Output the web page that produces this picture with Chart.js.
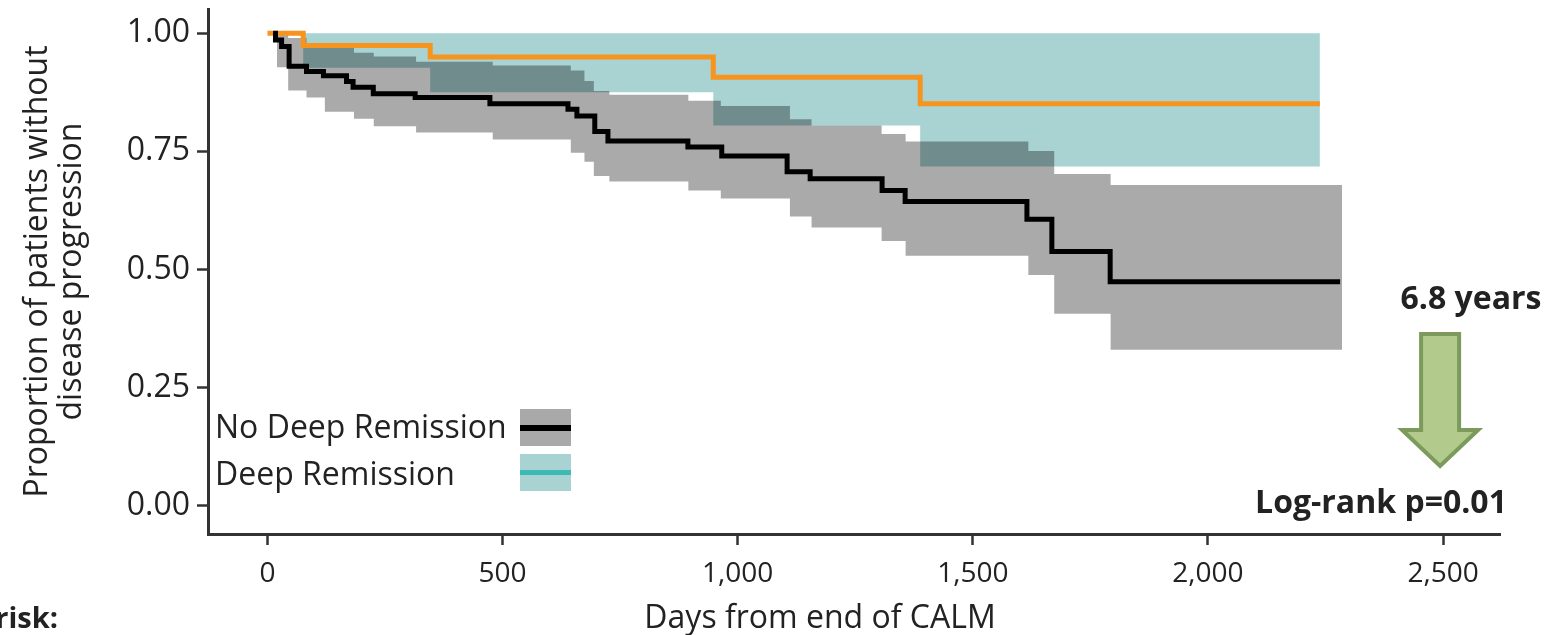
<!DOCTYPE html>
<html>
<head>
<meta charset="utf-8">
<script src="https://cdn.jsdelivr.net/npm/chart.js@4.4.1/dist/chart.umd.min.js"></script>
<style>
    html, body { margin: 0; padding: 0; background: #fff; }
</style>
</head>
<body>
<canvas id="kmChart" width="1558" height="635"></canvas>
<script>
// No Deep Remission: Kaplan-Meier curve (days, survival)
const noDeepTimes = [12, 17, 30, 46, 83, 119, 168, 182, 225, 314, 473, 639, 658, 696, 724, 894, 966, 1105, 1154, 1307, 1356, 1615, 1668, 1792, 2281];
const noDeepSurvival = [1.0, 0.986, 0.972, 0.930, 0.919, 0.910, 0.898, 0.886, 0.872, 0.864, 0.851, 0.839, 0.825, 0.792, 0.772, 0.759, 0.740, 0.707, 0.692, 0.667, 0.644, 0.606, 0.538, 0.474, 0.474];

// No Deep Remission: confidence band
const noDeepBandTimes = [20, 44, 83, 122, 184, 226, 316, 479, 645, 674, 694, 727, 895, 964, 1111, 1157, 1306, 1357, 1618, 1673, 1793, 2285];
const noDeepUpper = [0.999, 0.990, 0.969, 0.969, 0.959, 0.951, 0.940, 0.932, 0.921, 0.899, 0.878, 0.870, 0.857, 0.846, 0.818, 0.805, 0.787, 0.771, 0.751, 0.702, 0.679, 0.679];
const noDeepLower = [0.928, 0.879, 0.864, 0.834, 0.819, 0.803, 0.790, 0.775, 0.747, 0.728, 0.698, 0.686, 0.667, 0.650, 0.612, 0.589, 0.560, 0.529, 0.488, 0.406, 0.330, 0.330];

// Deep Remission: curve and band
const deepTimes = [0, 76, 346, 948, 1388, 2238];
const deepSurvival = [1.0, 0.974, 0.950, 0.907, 0.851, 0.851];
const deepUpper = [1.0, 1.0, 1.0, 1.0, 1.0, 1.0];
const deepLower = [1.0, 0.927, 0.875, 0.805, 0.718, 0.718];

const xTicks = [0, 500, 1000, 1500, 2000, 2500];
const yTicks = [0, 0.25, 0.5, 0.75, 1.0];

const legendLabels = ['No Deep Remission', 'Deep Remission'];
const arrowDay = 2500;

function pontos(tempos, valores) {
    return tempos.map((t, i) => ({ x: t, y: valores[i] }));
}

function textoNegrito(ctx, texto, x, y, tamanho, alinhar) {
    ctx.save();
    ctx.font = 'bold ' + tamanho + 'px "Open Sans"';
    ctx.textAlign = alinhar;
    ctx.textBaseline = 'alphabetic';
    ctx.fillStyle = '#222';
    ctx.fillText(texto, x, y);
    ctx.restore();
}

const extras = {
    id: 'extras',
    afterDraw(chart) {
        const ctx = chart.ctx;
        const xs = chart.scales.x;

        // legend
        ctx.save();
        ctx.font = '32px "Open Sans"';
        ctx.fillStyle = '#222';
        ctx.textAlign = 'left';
        ctx.textBaseline = 'alphabetic';
        ctx.fillText(legendLabels[0], 215, 438);
        ctx.fillText(legendLabels[1], 215, 485);
        ctx.fillStyle = '#a9a9a9';
        ctx.fillRect(520, 409, 51, 37);
        ctx.fillStyle = '#000';
        ctx.fillRect(520, 425, 51, 6);
        ctx.fillStyle = '#a8d3d2';
        ctx.fillRect(520, 454, 51, 37);
        ctx.fillStyle = '#3dbab3';
        ctx.fillRect(520, 470, 51, 5);
        ctx.restore();

        // x axis title
        ctx.save();
        ctx.font = '32px "Open Sans"';
        ctx.fillStyle = '#222';
        ctx.textAlign = 'center';
        ctx.textBaseline = 'alphabetic';
        ctx.fillText('Days from end of CALM', 820, 628);
        ctx.restore();

        // arrow
        const ax = xs.getPixelForValue(arrowDay) - 3;
        ctx.save();
        ctx.beginPath();
        ctx.moveTo(ax - 19, 334);
        ctx.lineTo(ax + 19, 334);
        ctx.lineTo(ax + 19, 430);
        ctx.lineTo(ax + 38, 430);
        ctx.lineTo(ax, 466);
        ctx.lineTo(ax - 38, 430);
        ctx.lineTo(ax - 19, 430);
        ctx.closePath();
        ctx.fillStyle = '#b2cb8c';
        ctx.fill();
        ctx.lineWidth = 4;
        ctx.strokeStyle = '#7b9a5b';
        ctx.stroke();
        ctx.restore();

        textoNegrito(ctx, '6.8 years', 1471, 309, 32, 'center');
        textoNegrito(ctx, 'Log-rank p=0.01', 1381, 513, 32, 'center');
        textoNegrito(ctx, 'At risk:', 58, 628, 29, 'right');
    }
};

const ctx = document.getElementById('kmChart').getContext('2d');

new Chart(ctx, {
    type: 'line',
    data: {
        datasets: [
            {
                label: 'No Deep Remission',
                data: pontos(noDeepTimes, noDeepSurvival),
                borderColor: '#000',
                borderWidth: 5,
                stepped: true,
                fill: false,
                order: 0
            },
            {
                label: 'Deep Remission',
                data: pontos(deepTimes, deepSurvival),
                borderColor: '#f7941d',
                borderWidth: 5,
                stepped: true,
                fill: false,
                order: 1
            },
            {
                label: 'No Deep Remission upper',
                data: pontos(noDeepBandTimes, noDeepUpper),
                borderColor: 'transparent',
                borderWidth: 0,
                stepped: true,
                fill: false,
                order: 2
            },
            {
                label: 'No Deep Remission lower',
                data: pontos(noDeepBandTimes, noDeepLower),
                borderColor: 'transparent',
                borderWidth: 0,
                backgroundColor: 'rgba(0, 0, 0, 0.335)',
                stepped: true,
                fill: '-1',
                order: 2
            },
            {
                label: 'Deep Remission upper',
                data: pontos(deepTimes, deepUpper),
                borderColor: 'transparent',
                borderWidth: 0,
                stepped: true,
                fill: false,
                order: 3
            },
            {
                label: 'Deep Remission lower',
                data: pontos(deepTimes, deepLower),
                borderColor: 'transparent',
                borderWidth: 0,
                backgroundColor: '#a8d3d2',
                stepped: true,
                fill: '-1',
                order: 3
            }
        ]
    },
    options: {
        responsive: false,
        animation: false,
        devicePixelRatio: 1,
        layout: { padding: { top: 9, right: 58, left: 0, bottom: 0 } },
        elements: {
            point: { radius: 0, hoverRadius: 0 },
            line: { tension: 0, borderCapStyle: 'butt', borderJoinStyle: 'miter' }
        },
        scales: {
            x: {
                type: 'linear',
                min: -126.5,
                max: 2621,
                afterBuildTicks: (s) => { s.ticks = xTicks.map((v) => ({ value: v })); },
                afterFit: (s) => { s.height = 101; s.paddingLeft = 0; s.paddingRight = 0; },
                ticks: {
                    callback: (v) => v.toLocaleString('en-US'),
                    font: { family: 'Open Sans', size: 28 },
                    color: '#222',
                    maxRotation: 0,
                    autoSkip: false,
                    padding: 12
                },
                grid: { drawOnChartArea: false, tickLength: 11, tickWidth: 2.5, tickColor: '#333' },
                border: { color: '#333', width: 3 }
            },
            y: {
                type: 'linear',
                min: -0.0604,
                max: 1.0515,
                afterBuildTicks: (s) => { s.ticks = yTicks.map((v) => ({ value: v })); },
                afterFit: (s) => { s.width = 208; s.paddingTop = 0; s.paddingBottom = 0; },
                ticks: {
                    callback: (v) => v.toFixed(2),
                    font: { family: 'Open Sans', size: 32 },
                    color: '#222',
                    padding: 7
                },
                grid: { drawOnChartArea: false, tickLength: 11, tickWidth: 2.5, tickColor: '#333' },
                border: { color: '#333', width: 3 },
                title: {
                    display: true,
                    text: ['Proportion of patients without', 'disease progression'],
                    font: { family: 'Open Sans', size: 32, lineHeight: 1.06 },
                    color: '#222',
                    padding: { top: 21, bottom: 0 }
                }
            }
        },
        plugins: {
            legend: { display: false },
            tooltip: { enabled: false }
        }
    },
    plugins: [extras]
});
</script>
</body>
</html>
